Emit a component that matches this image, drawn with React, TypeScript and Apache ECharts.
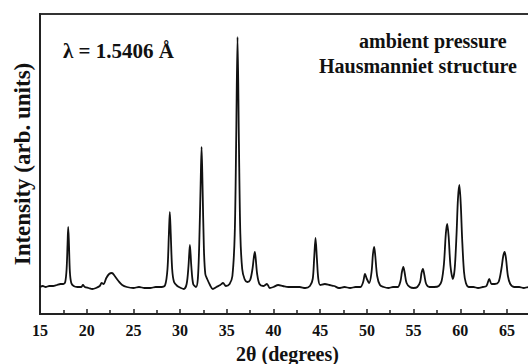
import React, { useEffect, useRef } from "react";
import * as echarts from "echarts";

// 2θ positions (degrees) of the measured points
const twoTheta: number[] = [
  15.0, 15.3, 15.6, 16.0, 16.4, 16.8, 17.2, 17.5, 17.7, 17.85, 17.95, 18.02, 18.1, 18.2, 18.35, 18.6,
  19.0, 19.4, 19.6, 19.8, 20.2, 20.6, 21.0, 21.4, 21.6, 21.8, 22.1, 22.4, 22.7, 23.0, 23.4, 23.8,
  24.3, 25.0, 25.6, 26.2, 26.8, 27.4, 28.0, 28.4, 28.65, 28.8, 28.9, 29.0, 29.15, 29.35, 29.7,
  30.1, 30.4, 30.7, 30.9, 31.05, 31.2, 31.4, 31.7, 31.9, 32.05, 32.2, 32.3, 32.4, 32.55, 32.7,
  32.9, 33.2, 33.5, 33.9, 34.3, 34.6, 34.9, 35.3, 35.6, 35.85, 36.0, 36.15, 36.3, 36.45, 36.65,
  36.9, 37.2, 37.5, 37.75, 37.9, 38.0, 38.1, 38.25, 38.5, 38.9, 39.3, 39.6, 40.0, 40.5, 41.0,
  41.6, 42.2, 42.8, 43.4, 43.9, 44.2, 44.35, 44.5, 44.65, 44.8, 45.0, 45.5, 46.0, 46.5, 47.0,
  47.6, 48.2, 48.8, 49.3, 49.6, 49.8, 50.0, 50.25, 50.5, 50.65, 50.78, 50.9, 51.1, 51.4, 51.8,
  52.3, 52.8, 53.3, 53.6, 53.75, 53.9, 54.05, 54.25, 54.6, 55.0, 55.4, 55.7, 55.85, 56.0, 56.15,
  56.35, 56.7, 57.2, 57.7, 58.0, 58.25, 58.45, 58.6, 58.75, 58.95, 59.2, 59.4, 59.6, 59.75, 59.9,
  60.05, 60.2, 60.4, 60.6, 60.9, 61.4, 61.9, 62.4, 62.8, 63.1, 63.35, 63.7, 64.1, 64.4, 64.6,
  64.75, 64.9, 65.1, 65.35, 65.8, 66.3, 66.8, 67.3, 67.8,
];

// Intensity (arb. units)
const intensity: number[] = [
  27, 28, 27, 28, 28, 29, 30, 30, 32, 45, 70, 87, 70, 42, 31, 28,
  27, 27, 29, 27, 26, 25, 26, 28, 31, 30, 36, 40, 41, 38, 33, 29,
  27, 26, 27, 26, 26, 27, 27, 29, 45, 80, 102, 80, 45, 32, 28,
  26, 25, 30, 48, 69, 48, 30, 27, 35, 70, 130, 167, 130, 65, 40,
  35, 29, 25, 27, 29, 31, 28, 30, 38, 80, 170, 277, 170, 80, 45,
  35, 32, 34, 45, 57, 62, 55, 40, 30, 28, 30, 26, 27, 29, 28,
  27, 27, 27, 26, 28, 35, 55, 76, 55, 35, 29, 30, 29, 28, 26,
  27, 26, 27, 27, 32, 40, 35, 31, 42, 60, 67, 58, 38, 29, 27,
  26, 27, 27, 33, 42, 47, 41, 31, 27, 26, 27, 32, 41, 45, 39,
  30, 27, 27, 28, 33, 50, 80, 90, 78, 48, 35, 45, 80, 115, 129,
  110, 75, 42, 31, 27, 27, 26, 27, 28, 35, 30, 30, 32, 45, 58,
  62, 55, 38, 30, 27, 27, 26, 27, 27,
];

const xTickLabels: number[] = [15, 20, 25, 30, 35, 40, 45, 50, 55, 60, 65];

const serif = "'Liberation Serif', 'DejaVu Serif', serif";

export default function App() {
  const ref = useRef<HTMLDivElement>(null);

  useEffect(() => {
    if (!ref.current) return;
    const chart = echarts.init(ref.current, undefined, { renderer: "svg" });
    const data = twoTheta.map((t, i) => [t, intensity[i]]);
    chart.setOption({
      animation: false,
      backgroundColor: "#ffffff",
      grid: {
        left: 40,
        top: 14,
        right: -7,
        bottom: 50,
        outerBoundsMode: "none",
        containLabel: false,
        show: true,
        borderColor: "#333333",
        borderWidth: 2,
        backgroundColor: "transparent",
      },
      xAxis: {
        type: "value",
        min: 15,
        max: 68,
        interval: 5,
        name: "2θ (degrees)",
        nameLocation: "middle",
        nameGap: 30,
        nameTextStyle: { fontFamily: serif, fontWeight: "bold", fontSize: 20, color: "#111" },
        axisLine: { show: true, lineStyle: { color: "#222", width: 2 } },
        axisTick: { show: true, inside: true, length: 5, lineStyle: { color: "#222", width: 1.5 } },
        minorTick: { show: true, splitNumber: 2, length: 4, lineStyle: { color: "#222", width: 1.5 } },
        splitLine: { show: false },
        axisLabel: {
          margin: 8,
          fontFamily: serif,
          fontWeight: "bold",
          fontSize: 16,
          color: "#111",
          formatter: (v: number) => (xTickLabels.includes(v) ? String(v) : ""),
        },
      },
      yAxis: {
        type: "value",
        min: 0,
        max: 300,
        name: "Intensity (arb. units)",
        nameLocation: "middle",
        nameGap: 6,
        nameTextStyle: { fontFamily: serif, fontWeight: "bold", fontSize: 23, color: "#111" },
        axisLine: { show: true, lineStyle: { color: "#222", width: 2 } },
        axisTick: { show: false },
        axisLabel: { show: false },
        splitLine: { show: false },
      },
      graphic: [
        {
          type: "text",
          left: 63,
          top: 40,
          style: {
            text: "λ = 1.5406 Å",
            font: `bold 21px ${serif}`,
            fill: "#111",
          },
        },
        {
          type: "text",
          left: 359,
          top: 31,
          style: {
            text: "ambient pressure",
            font: `bold 20px ${serif}`,
            fill: "#111",
          },
        },
        {
          type: "text",
          left: 319,
          top: 56,
          style: {
            text: "Hausmanniet structure",
            font: `bold 20px ${serif}`,
            fill: "#111",
          },
        },
      ],
      series: [
        {
          type: "line",
          data,
          showSymbol: false,
          smooth: 0.3,
          lineStyle: { color: "#111", width: 1.8 },
          clip: true,
        },
      ],
    });
    return () => chart.dispose();
  }, []);

  return (
    <div
      ref={ref}
      style={{ position: "fixed", left: 0, top: 0, width: 528, height: 364, background: "#fff" }}
    />
  );
}
